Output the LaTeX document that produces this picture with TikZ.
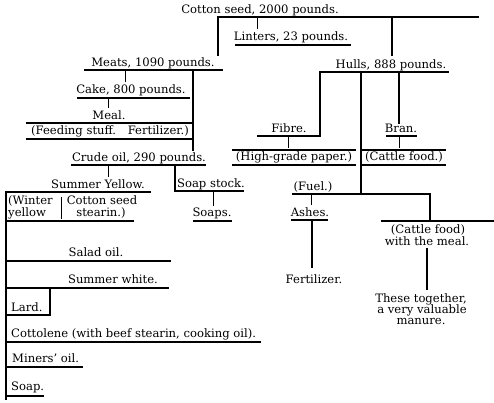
\documentclass[tikz,border=0pt]{standalone}
\usepackage{fontspec}
\setmainfont{DejaVu Serif}
\begin{document}
\begin{tikzpicture}[x=1pt,y=-1pt,
  txt/.style={inner sep=0pt, anchor=base, font=\fontsize{11.6}{13}\selectfont},
  rule/.style={line width=1.6pt, line cap=rect},
  tick/.style={line width=0.7pt, shorten >=1.5pt}]
\useasboundingbox[fill=white] (0,0) rectangle (494,402);
% ---------- text ----------
\node[txt] (cotton) at (260,13) {Cotton seed, 2000 pounds.};
\node[txt] (linters) at (291,40) {Linters, 23 pounds.};
\node[txt] (hulls) at (391,68) {Hulls, 888 pounds.};
\node[txt] (meats) at (153,66) {Meats, 1090 pounds.};
\node[txt] (cake) at (131,93) {Cake, 800 pounds.};
\node[txt] (meal) at (109,119) {Meal.};
\node[txt] (feed) at (110,134) {(Feeding stuff.\hspace{1em}Fertilizer.)};
\node[txt] (crude) at (139,161) {Crude oil, 290 pounds.};
\node[txt] (summery) at (98,188) {Summer Yellow.};
\node[txt] (soapstock) at (211,187) {Soap stock.};
\node[txt] (soaps) at (212,216) {Soaps.};
\node[txt, anchor=base west] (winter1) at (8,204) {(Winter};
\node[txt, anchor=base west] (winter2) at (8,216) {yellow};
\node[txt] (css1) at (102,204) {Cotton seed};
\node[txt] (css2) at (101,216) {stearin.)};
\node[txt] (salad) at (96,256) {Salad oil.};
\node[txt] (swhite) at (113,283) {Summer white.};
\node[txt, anchor=base west] (lard) at (11,311) {Lard.};
\node[txt, anchor=base west] (cottolene) at (11,337) {Cottolene (with beef stearin, cooking oil).};
\node[txt, anchor=base west] (miners) at (12,362) {Miners' oil.};
\node[txt, anchor=base west] (soap) at (11,390) {Soap.};
\node[txt] (fibre) at (289,132) {Fibre.};
\node[txt] (bran) at (401,132) {Bran.};
\node[txt] (paper) at (294,160) {(High-grade paper.)};
\node[txt] (cattle) at (404,160) {(Cattle food.)};
\node[txt] (fuel) at (313,190) {(Fuel.)};
\node[txt] (ashes) at (310,216) {Ashes.};
\node[txt] (fert) at (314,283) {Fertilizer.};
\node[txt] (cf1) at (428,233) {(Cattle food)};
\node[txt] (cf2) at (427,245) {with the meal.};
\node[txt] (tog1) at (421,302) {These together,};
\node[txt] (tog2) at (422,313) {a very valuable};
\node[txt] (tog3) at (421,324) {manure.};
% ---------- coordinates ----------
\coordinate (csA) at (218,17); \coordinate (csB) at (478,17);
\coordinate (mtop) at (218,55);
\coordinate (hA) at (392,17); \coordinate (hB) at (392,55);
\coordinate (lA) at (257,17);
\coordinate (liA) at (235,45); \coordinate (liB) at (351,45);
\coordinate (meA) at (85,70); \coordinate (meB) at (222,70);
\coordinate (meT) at (125,70);
\coordinate (caA) at (77,98); \coordinate (caB) at (190,98); \coordinate (caT) at (108,98);
\coordinate (mlA) at (27,123); \coordinate (mlB) at (193,123);
\coordinate (fdA) at (27,139); \coordinate (fdB) at (193,139);
\coordinate (mvA) at (193,70); \coordinate (mvB) at (193,150);
\coordinate (crA) at (72,165); \coordinate (crB) at (205,165);
\coordinate (crT) at (108,165);
\coordinate (ssA) at (175,165); \coordinate (ssB) at (175,191); \coordinate (ssC) at (243,191);
\coordinate (ssT) at (213,191);
\coordinate (spA) at (193,221); \coordinate (spB) at (232,221);
\coordinate (syA) at (6,192); \coordinate (syB) at (150,192); \coordinate (lvB) at (6,399);
\coordinate (dvA) at (61,197); \coordinate (dvB) at (61,220);
\coordinate (wuA) at (6,221); \coordinate (wuB) at (133,221);
\coordinate (saA) at (6,261); \coordinate (saB) at (170,261);
\coordinate (swA) at (6,288); \coordinate (swB) at (168,288);
\coordinate (ldA) at (50,288); \coordinate (ldB) at (50,315); \coordinate (ldC) at (6,315);
\coordinate (coA) at (6,342); \coordinate (coB) at (260,342);
\coordinate (miA) at (6,367); \coordinate (miB) at (82,367);
\coordinate (soA) at (6,396); \coordinate (soB) at (43,396);
\coordinate (huA) at (320,72); \coordinate (huB) at (448,72);
\coordinate (fiA) at (258,136); \coordinate (fiB) at (320,136);
\coordinate (brA) at (399,72); \coordinate (brB) at (399,123);
\coordinate (buA) at (386,136); \coordinate (buB) at (417,136);
\coordinate (mdA) at (361,72); \coordinate (mdB) at (361,194);
\coordinate (fiT) at (288,137); \coordinate (fiT2) at (288,148);
\coordinate (ptA) at (233,150); \coordinate (ptB) at (355,150);
\coordinate (pbA) at (233,165); \coordinate (pbB) at (355,165);
\coordinate (brT) at (399,137); \coordinate (brT2) at (399,148);
\coordinate (ctA) at (363,150); \coordinate (ctB) at (445,150);
\coordinate (cbA) at (363,165); \coordinate (cbB) at (445,165);
\coordinate (fuA) at (293,194); \coordinate (fuB) at (430,194);
\coordinate (fvB) at (430,221);
\coordinate (clA) at (382,221); \coordinate (clB) at (494,221);
\coordinate (asT) at (311,194);
\coordinate (auA) at (291,220); \coordinate (auB) at (328,220);
\coordinate (avA) at (312,220); \coordinate (avB) at (312,267);
\coordinate (cvA) at (427,249); \coordinate (cvB) at (427,289);
% ---------- lines ----------
\draw[rule] (csA) -- (csB);
\draw[rule] (csA) -- (mtop);
\draw[rule] (hA) -- (hB);
\draw[tick] (lA) -- (lA |- linters.north);
\draw[line width=1.3pt] (liA) -- (liB);
\draw[rule] (meA) -- (meB);
\draw[tick] (meT) -- (meT |- cake.north);
\draw[line width=1.3pt] (caA) -- (caB);
\draw[tick] (caT) -- (caT |- meal.north);
\draw[rule] (mlA) -- (mlB);
\draw[rule] (fdA) -- (fdB);
\draw[rule] (mvA) -- (mvB);
\draw[rule] (crA) -- (crB);
\draw[tick] (crT) -- (crT |- summery.north);
\draw[rule] (ssA) -- (ssB) -- (ssC);
\draw[tick] (ssT) -- (ssT |- soaps.north);
\draw[line width=1.3pt] (spA) -- (spB);
\draw[rule] (syA) -- (syB);
\draw[rule] (syA) -- (lvB);
\draw[tick] (dvA) -- (dvB);
\draw[rule] (wuA) -- (wuB);
\draw[rule] (saA) -- (saB);
\draw[rule] (swA) -- (swB);
\draw[rule] (ldA) -- (ldB) -- (ldC);
\draw[rule] (coA) -- (coB);
\draw[rule] (miA) -- (miB);
\draw[rule] (soA) -- (soB);
\draw[rule] (huA) -- (huB);
\draw[rule] (huA) -- (fiB) -- (fiA);
\draw[rule] (brA) -- (brB);
\draw[line width=1.3pt] (buA) -- (buB);
\draw[rule] (mdA) -- (mdB);
\draw[tick, shorten >=0pt] (fiT) -- (fiT2);
\draw[rule] (ptA) -- (ptB);
\draw[rule] (pbA) -- (pbB);
\draw[tick, shorten >=0pt] (brT) -- (brT2);
\draw[rule] (ctA) -- (ctB);
\draw[rule] (cbA) -- (cbB);
\draw[rule] (fuA) -- (fuB) -- (fvB);
\draw[rule] (clA) -- (clB);
\draw[tick] (asT) -- (asT |- ashes.north);
\draw[line width=1.3pt] (auA) -- (auB);
\draw[rule] (avA) -- (avB);
\draw[rule] (cvA) -- (cvB);
\end{tikzpicture}
\end{document}
